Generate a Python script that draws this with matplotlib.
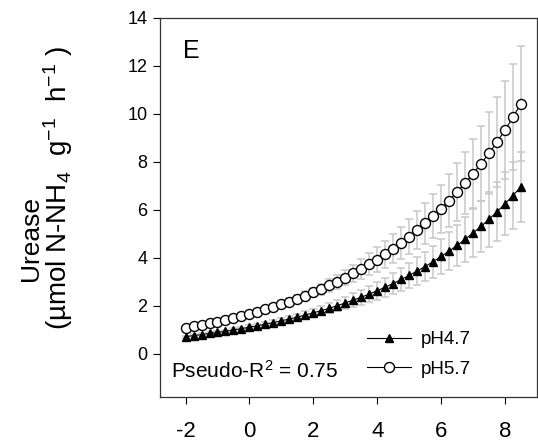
import matplotlib
matplotlib.use("Agg")
import matplotlib.pyplot as plt
import numpy as np

plt.rcParams['font.family'] = ['Liberation Sans', 'DejaVu Sans']
plt.rcParams['mathtext.fontset'] = 'custom'
plt.rcParams['mathtext.rm'] = 'Liberation Sans'
plt.rcParams['mathtext.it'] = 'Liberation Sans:italic'
plt.rcParams['mathtext.bf'] = 'Liberation Sans:bold'
plt.rcParams['axes.unicode_minus'] = False

# x grid of the fitted curves (-2 .. 8.5, step 0.25)
x_vals = [-2.0, -1.75, -1.5, -1.25, -1.0, -0.75, -0.5, -0.25, 0.0, 0.25, 0.5, 0.75,
          1.0, 1.25, 1.5, 1.75, 2.0, 2.25, 2.5, 2.75, 3.0, 3.25, 3.5, 3.75,
          4.0, 4.25, 4.5, 4.75, 5.0, 5.25, 5.5, 5.75, 6.0, 6.25, 6.5, 6.75,
          7.0, 7.25, 7.5, 7.75, 8.0, 8.25, 8.5]

ph47 = [0.72, 0.76, 0.80, 0.85, 0.89, 0.94, 1.00, 1.05, 1.11, 1.17, 1.24, 1.30,
        1.38, 1.45, 1.53, 1.62, 1.71, 1.80, 1.90, 2.01, 2.12, 2.24, 2.36, 2.49,
        2.63, 2.78, 2.93, 3.10, 3.27, 3.45, 3.64, 3.84, 4.06, 4.28, 4.52, 4.77,
        5.04, 5.31, 5.61, 5.92, 6.25, 6.60, 6.96]
ph47_err = [0.04, 0.05, 0.05, 0.05, 0.06, 0.06, 0.07, 0.07, 0.08, 0.09, 0.10, 0.11,
            0.12, 0.13, 0.14, 0.16, 0.17, 0.19, 0.21, 0.23, 0.25, 0.28, 0.31, 0.34,
            0.37, 0.40, 0.44, 0.48, 0.52, 0.57, 0.62, 0.67, 0.73, 0.79, 0.86, 0.93,
            1.01, 1.08, 1.15, 1.23, 1.31, 1.39, 1.46]

ph57 = [1.08, 1.14, 1.20, 1.27, 1.34, 1.41, 1.49, 1.57, 1.66, 1.75, 1.85, 1.95,
        2.06, 2.18, 2.30, 2.42, 2.56, 2.70, 2.85, 3.01, 3.17, 3.35, 3.53, 3.73,
        3.93, 4.15, 4.38, 4.62, 4.88, 5.15, 5.44, 5.74, 6.05, 6.39, 6.74, 7.12,
        7.51, 7.93, 8.36, 8.83, 9.32, 9.87, 10.42]
ph57_err = [0.06, 0.07, 0.07, 0.08, 0.08, 0.08, 0.09, 0.09, 0.10, 0.11, 0.12, 0.13,
            0.14, 0.16, 0.17, 0.19, 0.20, 0.23, 0.26, 0.29, 0.32, 0.36, 0.41, 0.46,
            0.51, 0.56, 0.61, 0.67, 0.73, 0.79, 0.86, 0.92, 1.00, 1.09, 1.20, 1.31,
            1.43, 1.57, 1.71, 1.88, 2.05, 2.22, 2.40]

x_ticks = [-2, 0, 2, 4, 6, 8]
y_ticks = [0, 2, 4, 6, 8, 10, 12, 14]

fig = plt.figure(figsize=(5.38, 4.42), dpi=100)
ax = fig.add_axes([0.2974, 0.1018, 0.7006, 0.8575])

ebar = dict(fmt='none', ecolor='#c8c8c8', elinewidth=1.1, capsize=3.2, capthick=1.1, zorder=1)
ax.errorbar(x_vals, ph47, yerr=ph47_err, **ebar)
ax.errorbar(x_vals, ph57, yerr=ph57_err, **ebar)

ax.plot(x_vals, ph47, color='black', lw=0.8, marker='^', ms=6, mfc='black', mec='black',
        label='pH4.7', zorder=3)
ax.plot(x_vals, ph57, color='black', lw=0.8, marker='o', ms=7.2, mfc='white', mec='black',
        mew=1.0, label='pH5.7', zorder=3)

ax.set_xlim(-2.8, 9.0)
ax.set_ylim(-1.8, 14)
ax.set_xticks(x_ticks)
ax.set_yticks(y_ticks)
ax.tick_params(axis='x', direction='out', length=5, width=0.8, labelsize=16, pad=12)
ax.tick_params(axis='y', direction='out', length=5, width=0.8, labelsize=13, pad=4)
for s in ax.spines.values():
    s.set_linewidth(0.9)
    s.set_color('#333333')

ax.text(0.061, 0.913, 'E', transform=ax.transAxes, fontsize=18, ha='left', va='center')
ax.text(0.03, 0.07, 'Pseudo-R$^2$ = 0.75', transform=ax.transAxes, fontsize=15,
        ha='left', va='center')

ax.legend(loc='lower left', bbox_to_anchor=(0.55, 0.05), frameon=False, fontsize=13.5,
          handlelength=2.35, handletextpad=0.5, labelspacing=0.68, borderpad=0,
          borderaxespad=0)

fig.text(0.058, 0.46, 'Urease', rotation=90, fontsize=19, ha='center', va='center')
fig.text(0.108, 0.575, '(µmol N-NH$_4$  g$^{-1}$  h$^{-1}$ )', rotation=90, fontsize=20,
         ha='center', va='center')

fig.savefig('out.png', dpi=100)
